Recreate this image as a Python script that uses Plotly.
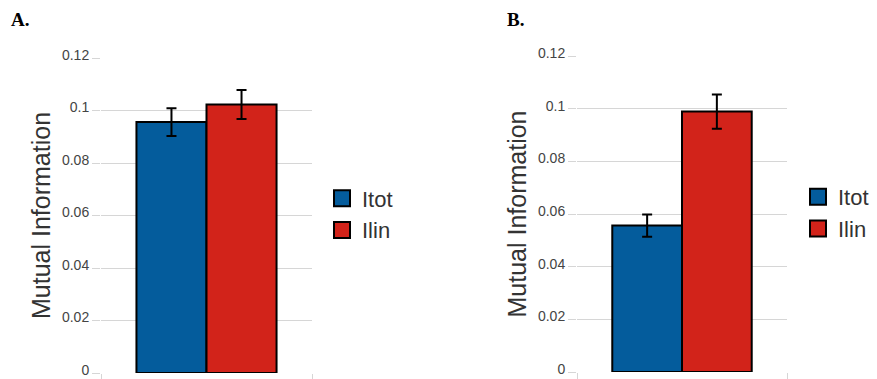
import plotly.graph_objects as go

# Mutual information estimates for the two conditions
series = ["Itot", "Ilin"]
colors = ["#045c9c", "#d2231a"]

panel_a_values = [0.0956, 0.1023]
panel_a_errors = [0.0053, 0.0055]

panel_b_values = [0.0556, 0.0989]
panel_b_errors = [0.0042, 0.0065]

panel_labels = ["A.", "B."]
y_title = "Mutual Information"

FONT = "Liberation Sans, Arial, sans-serif"
SERIF = "Liberation Serif, Times New Roman, serif"
GRID = "#d6d6d6"
TEXT = "#333333"

fig = go.Figure()

panels = [
    (panel_a_values, panel_a_errors, "x", "y", "legend"),
    (panel_b_values, panel_b_errors, "x2", "y2", "legend2"),
]

for values, errors, xa, ya, lg in panels:
    for name, val, err, col in zip(series, values, errors, colors):
        fig.add_trace(go.Bar(
            x=[0], y=[val], name=name, xaxis=xa, yaxis=ya,
            marker=dict(color=col, line=dict(color="black", width=2)),
            error_y=dict(type="data", array=[err], color="black",
                         thickness=2, width=5),
            showlegend=False,
        ))
    # legend swatches (square markers give larger keys than bar swatches)
    for name, col in zip(series, colors):
        fig.add_trace(go.Scatter(
            x=[None], y=[None], name=name, mode="markers", xaxis=xa, yaxis=ya,
            marker=dict(symbol="square", size=16, color=col,
                        line=dict(color="black", width=2)),
            legend=lg,
        ))

xaxis_style = dict(
    range=[-0.5, 0.5], tickvals=[-0.5, 0.5], showticklabels=False,
    showgrid=True, gridcolor=GRID, gridwidth=1, zeroline=False,
    ticks="outside", ticklen=7, tickcolor=GRID, showline=False,
    fixedrange=True, automargin=False,
)
yaxis_style = dict(
    range=[0, 0.12], dtick=0.02, tick0=0, showgrid=True, gridcolor=GRID,
    gridwidth=1, zeroline=False, ticks="outside", ticklen=8, tickcolor=GRID,
    tickfont=dict(family=FONT, size=14, color="#444444"),
    ticklabeloverflow="allow", ticklabelshift=-3, automargin=False,
    title=dict(text=y_title, font=dict(family=FONT, size=25, color=TEXT),
               standoff=4),
    showline=False,
)

legend_style = dict(
    font=dict(family=FONT, size=22, color=TEXT), bgcolor="rgba(0,0,0,0)",
    xanchor="left", yanchor="middle", itemclick=False, tracegroupgap=0,
)

W, H = 877, 379
fig.update_layout(
    width=W, height=H, margin=dict(l=0, r=0, t=0, b=0),
    paper_bgcolor="white", plot_bgcolor="white",
    barmode="group", bargap=0.336, bargroupgap=0,
    xaxis=dict(domain=[101 / W, 312 / W], anchor="y", **xaxis_style),
    yaxis=dict(domain=[6 / H, 321 / H], anchor="x", **yaxis_style),
    xaxis2=dict(domain=[577 / W, 787 / W], anchor="y2", **xaxis_style),
    yaxis2=dict(domain=[7 / H, 323 / H], anchor="x2", **yaxis_style),
    legend=dict(x=322 / W, y=(H - 214.5) / H, **legend_style),
    legend2=dict(x=798 / W, y=(H - 213) / H, **legend_style),
    annotations=[
        dict(text=f"<b>{panel_labels[0]}</b>", x=9 / W, y=1 - 7 / H,
             xref="paper", yref="paper", xanchor="left", yanchor="top",
             showarrow=False, font=dict(family=SERIF, size=19, color="black")),
        dict(text=f"<b>{panel_labels[1]}</b>", x=505 / W, y=1 - 7 / H,
             xref="paper", yref="paper", xanchor="left", yanchor="top",
             showarrow=False, font=dict(family=SERIF, size=19, color="black")),
    ],
)

fig.write_html("out.html")
